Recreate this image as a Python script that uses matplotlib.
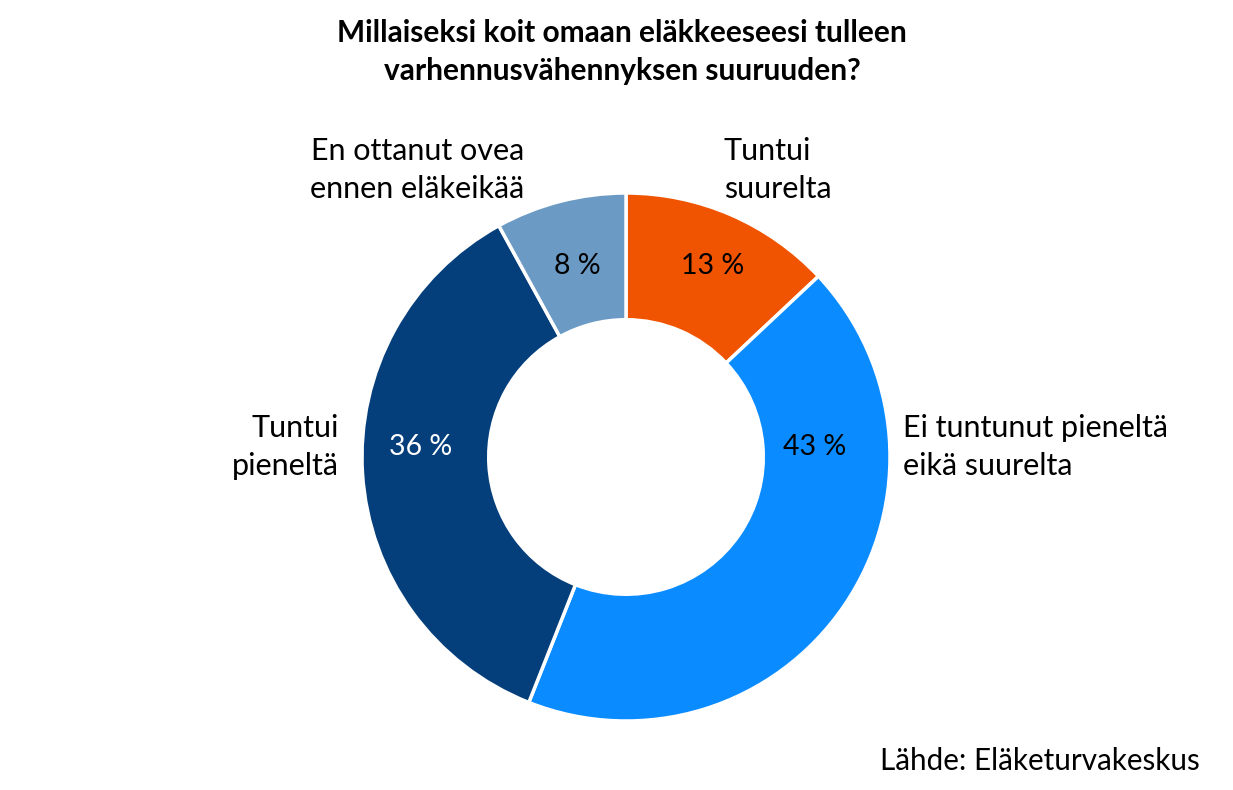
import matplotlib
matplotlib.use('Agg')
from matplotlib import pyplot as plt

plt.rcParams['font.family'] = ['Lato', 'DejaVu Sans']

title = 'Millaiseksi koit omaan eläkkeeseesi tulleen\nvarhennusvähennyksen suuruuden?'
categories = ['Tuntui\nsuurelta', 'Ei tuntunut pieneltä\neikä suurelta',
              'Tuntui\npieneltä', 'En ottanut ovea\nennen eläkeikää']
shares = [13, 43, 36, 8]
source = 'Lähde: Eläketurvakeskus'

colours = ['#F05400', '#0A8BFF', '#053F7B', '#6B9AC4']
valueColours = ['black', 'black', 'white', 'black']

W, H = 1233, 790
fig = plt.figure(figsize=(W / 100, H / 100), dpi=100)

# donut centre and radius in pixels
cx, cy, R = 626, 457, 264
half = 300
ax = fig.add_axes([(cx - half) / W, (H - cy - half) / H, 2 * half / W, 2 * half / H])
ax.pie(shares, colors=colours, startangle=90, counterclock=False, radius=1,
       wedgeprops=dict(width=0.48, edgecolor='white', linewidth=2.5))
lim = half / R
ax.set_xlim(-lim, lim)
ax.set_ylim(-lim, lim)
ax.set_aspect('equal')
ax.axis('off')

def px(x, y):
  return ((x - cx) / R, (cy - y) / R)

# value labels (pixel positions as in the original)
valuePos = [(713, 266), (815, 447), (421, 447), (577, 266)]
for v, pos, c in zip(shares, valuePos, valueColours):
  ax.text(*px(*pos), '%d %%' % v, ha='center', va='center', fontsize=20.5, color=c)

# category labels
catPos = [(724, 170, 'left'), (903, 447, 'left'), (339, 447, 'right'), (524, 170, 'right')]
for label, (x, y, ha) in zip(categories, catPos):
  ax.text(*px(x, y), label, ha=ha, va='center', fontsize=22, linespacing=1.4,
          multialignment=ha)

fig.text(622 / W, 1 - 52 / H, title, ha='center', va='center', fontsize=21.5,
         fontweight='bold', linespacing=1.4)
fig.text(1200 / W, 1 - 761 / H, source, ha='right', va='center', fontsize=21.3)

fig.savefig('out.png', dpi=100)
